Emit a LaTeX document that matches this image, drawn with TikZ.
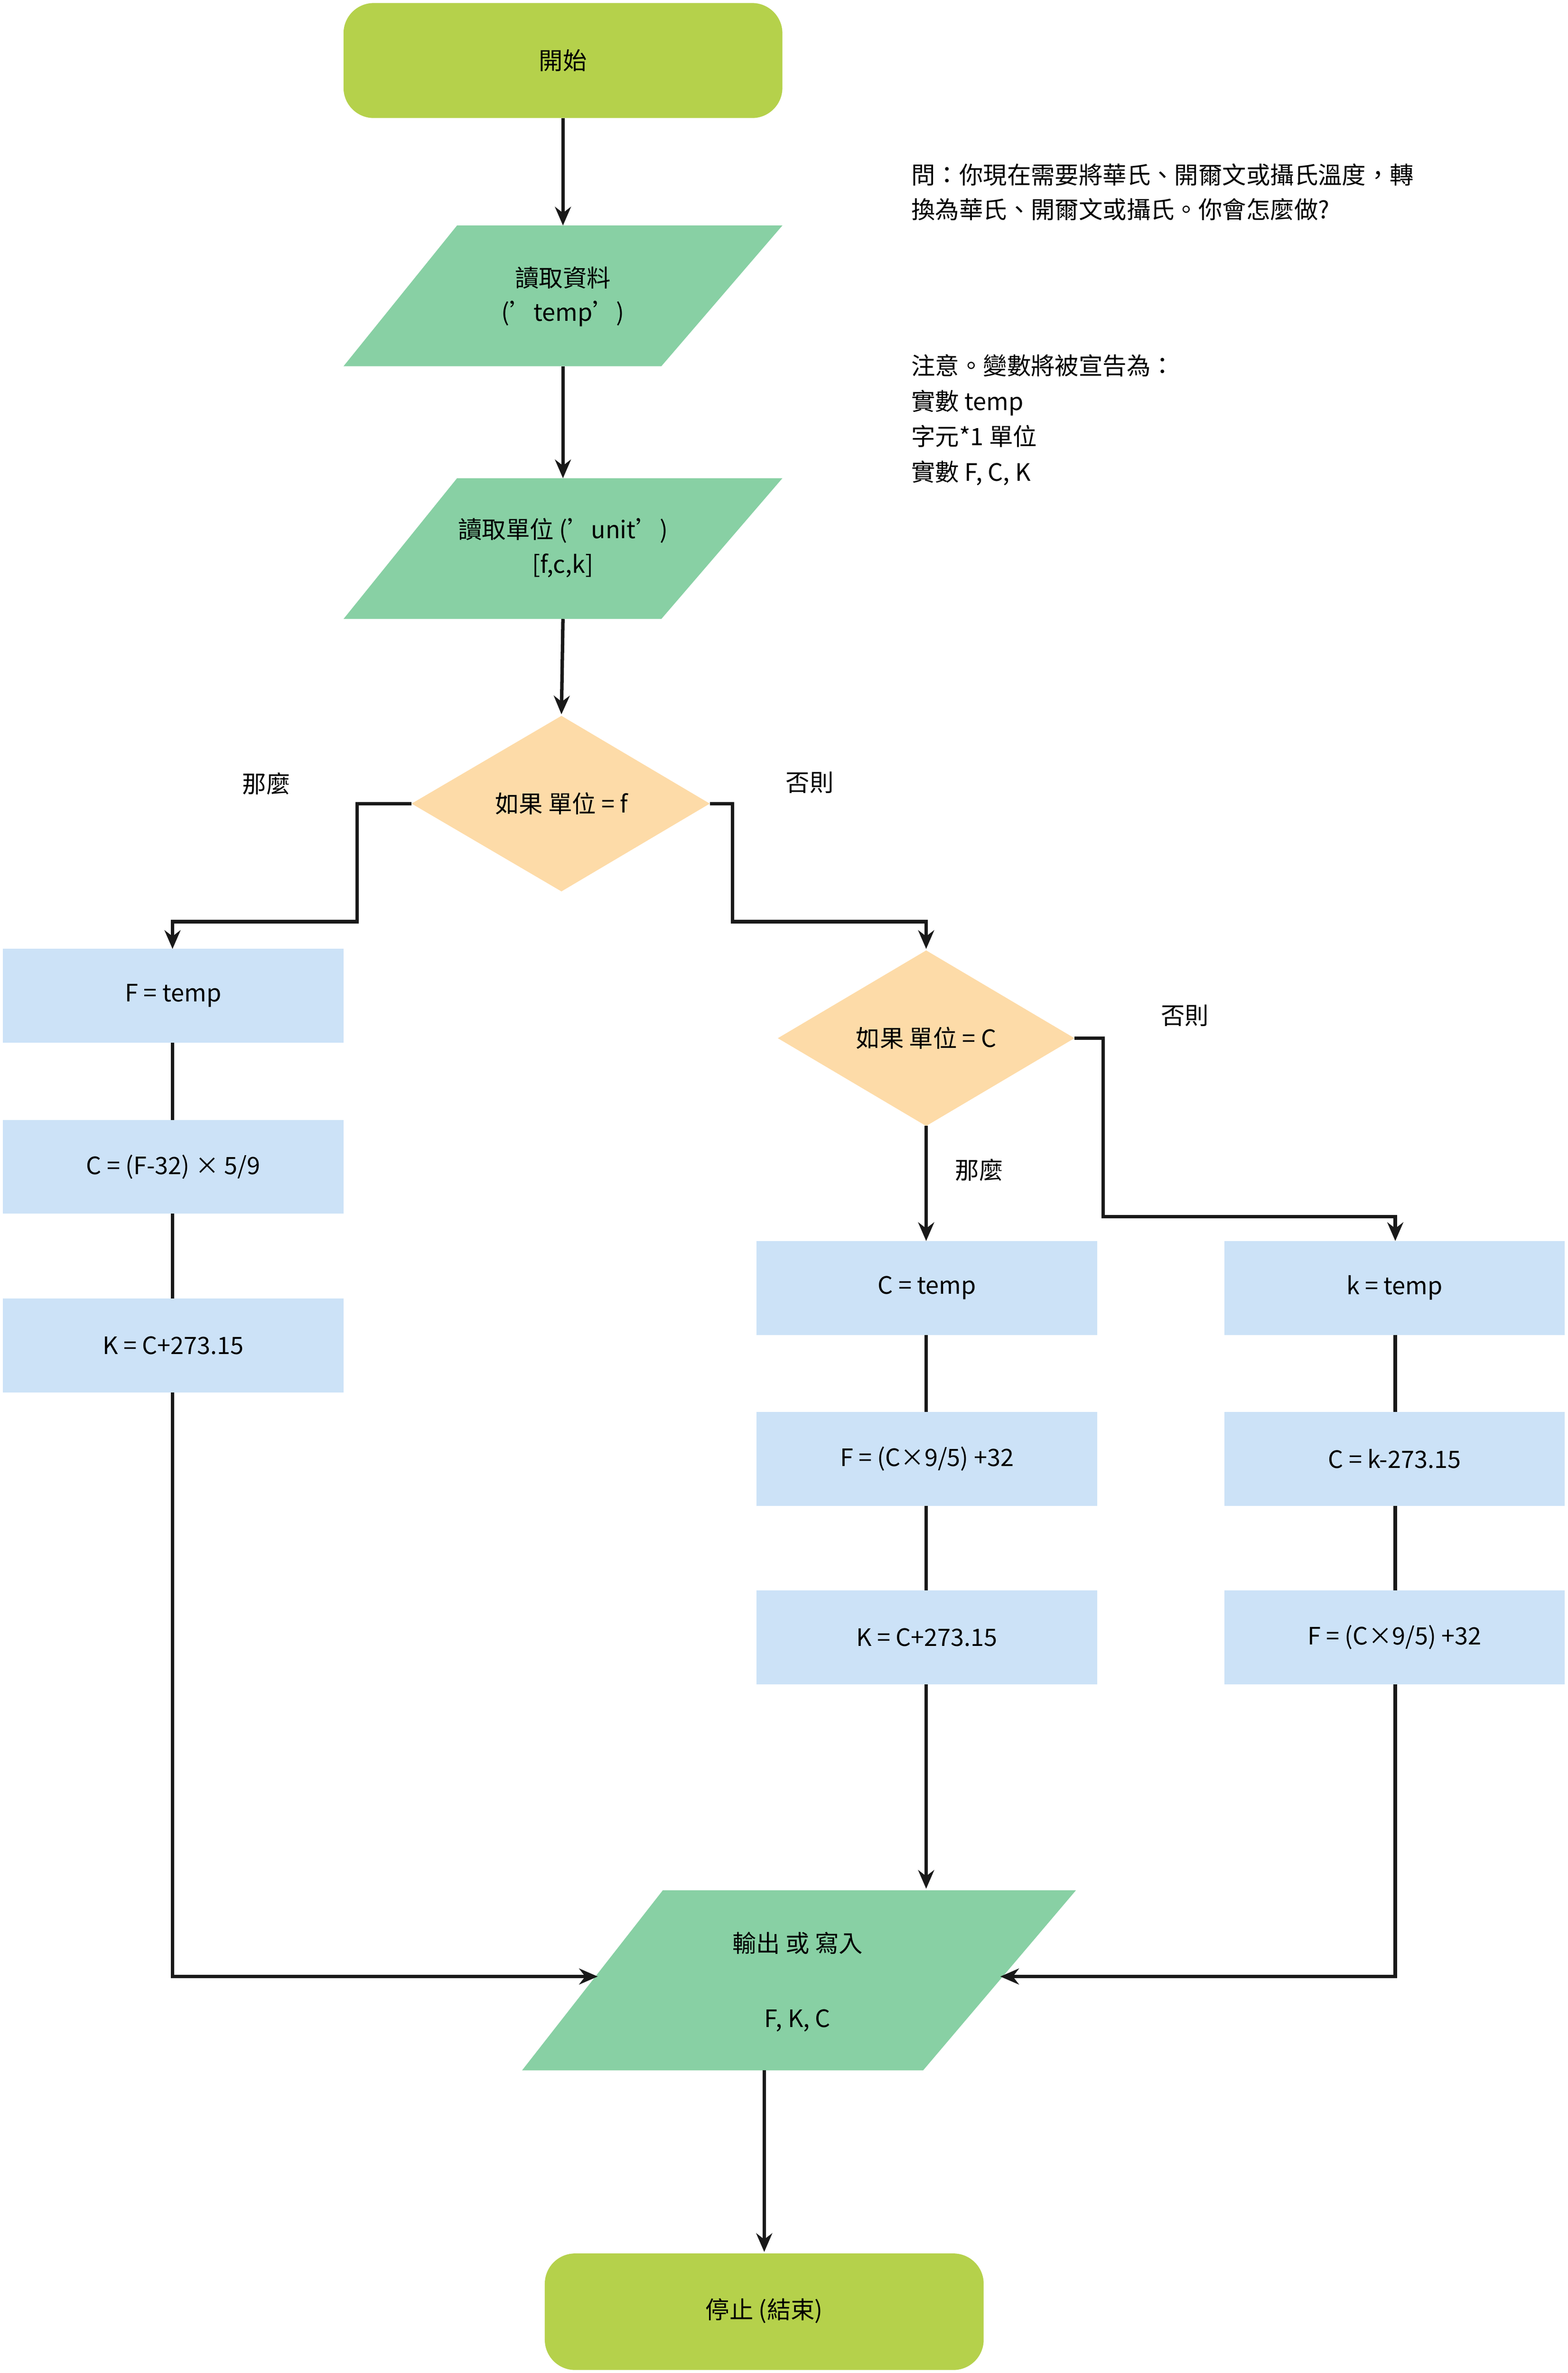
\documentclass[tikz,border=0pt]{standalone}
\usepackage{fontspec}
\setmainfont{Noto Sans CJK TC}
\usetikzlibrary{arrows.meta}
\begin{document}
\begin{tikzpicture}[x=0.02cm,y=-0.02cm,font=\fontsize{9}{13}\selectfont,
  term/.style={fill=termc,rounded corners=0.4cm},
  io/.style={fill=ioc},
  proc/.style={fill=procc},
  dec/.style={fill=decc},
  ln/.style={line width=1.3pt,draw=black!90},
  ar/.style={ln,-{Stealth[length=7pt,width=6pt]}},
  lbl/.style={anchor=center}]
\definecolor{termc}{HTML}{B5D14B}
\definecolor{ioc}{HTML}{88D0A4}
\definecolor{procc}{HTML}{CCE2F7}
\definecolor{decc}{HTML}{FDDBA8}
\useasboundingbox (0,0) rectangle (1036,1568);
% start / stop
\fill[term] (227,2) rectangle (517,78);
\node (start) at (372,40) {開始};
\fill[term] (360,1489) rectangle (650,1566);
\node (stop) at (505,1527) {停止 (結束)};
% io
\fill[io] (302,149) -- (517,149) -- (437,242) -- (227,242) -- cycle;
\node[align=center] (in1) at (372,196) {讀取資料\\('temp')};
\fill[io] (302,316) -- (517,316) -- (437,409) -- (227,409) -- cycle;
\node[align=center] (in2) at (372,362) {讀取單位 ('unit')\\{}[f,c,k]};
\fill[io] (438,1249) -- (711,1249) -- (610,1368) -- (345,1368) -- cycle;
\node (out1) at (527,1284) {輸出 或 寫入};
\node (out2) at (527,1335) {F, K, C};
% decisions
\fill[dec] (371,473) -- (469,531) -- (371,589) -- (272,531) -- cycle;
\node (d1) at (371,531) {如果 單位 = f};
\fill[dec] (612,628) -- (710,686) -- (612,744) -- (514,686) -- cycle;
\node (d2) at (612,686) {如果 單位 = C};
% process boxes
\foreach \n/\x/\y/\t in {a1/2/627/{F = temp},a2/2/740/{C = (F-32) × 5/9},a3/2/858/{K = C+273.15},
  b1/500/820/{C = temp},b2/500/933/{F = (C×9/5) +32},b3/500/1051/{K = C+273.15},
  c1/809/820/{k = temp},c2/809/933/{C = k-273.15},c3/809/1051/{F = (C×9/5) +32}}{
  \fill[proc] (\x,\y) rectangle ++(225,62);
  \node (\n) at (\x+112.5,\y+31) {\t};
}
% coordinates
\coordinate (sB) at (372,78); \coordinate (i1T) at (372,149); \coordinate (i1B) at (372,242);
\coordinate (i2T) at (372,316); \coordinate (i2B) at (372,409); \coordinate (d1T) at (371,472);
\coordinate (d1L) at (272,531); \coordinate (d1R) at (469,531);
\coordinate (a1T) at (114,627); \coordinate (a3B) at (114,920);
\coordinate (d2T) at (612,627); \coordinate (d2B) at (612,744); \coordinate (d2R) at (710,686);
\coordinate (b1T) at (612,820); \coordinate (c1T) at (922,820);
\coordinate (b3B) at (612,1113); \coordinate (c3B) at (922,1113);
\coordinate (oT) at (612,1248); \coordinate (oL) at (395,1306); \coordinate (oR) at (661,1306);
\coordinate (oB) at (505,1368); \coordinate (stT) at (505,1488);
% connectors
\draw[ar] (sB) -- (i1T);
\draw[ar] (i1B) -- (i2T);
\draw[ar] (i2B) -- (d1T);
\draw[ar] (d1L) -- (236,531) -- (236,609) -- (114,609) -- (a1T);
\draw[ar] (d1R) -- (484,531) -- (484,609) -- (612,609) -- (d2T);
\draw[ln] (a1.south) ++(0,-31) coordinate (tmp);
\draw[ln] (114,689) -- (114,740) (114,802) -- (114,858);
\draw[ar] (a3B) -- (114,1306) -- (oL);
\draw[ar] (d2B) -- (b1T);
\draw[ar] (d2R) -- (729,686) -- (729,804) -- (922,804) -- (c1T);
\draw[ln] (612,882) -- (612,933) (612,995) -- (612,1051);
\draw[ln] (922,882) -- (922,933) (922,995) -- (922,1051);
\draw[ar] (b3B) -- (oT);
\draw[ar] (c3B) -- (922,1306) -- (oR);
\draw[ar] (oB) -- (stT);
% labels
\node at (176,518) {那麼};
\node at (535,517) {否則};
\node at (783,671) {否則};
\node at (647,773) {那麼};
\node[anchor=west,align=left] (q) at (596,127) {問：你現在需要將華氏、開爾文或攝氏溫度，轉\\換為華氏、開爾文或攝氏。你會怎麼做?};
\node[anchor=north west,align=left,font=\fontsize{9}{13.3}\selectfont] (note) at (596,228) {注意。變數將被宣告為：\\實數 temp\\字元*1 單位\\實數 F, C, K};
\end{tikzpicture}
\end{document}
